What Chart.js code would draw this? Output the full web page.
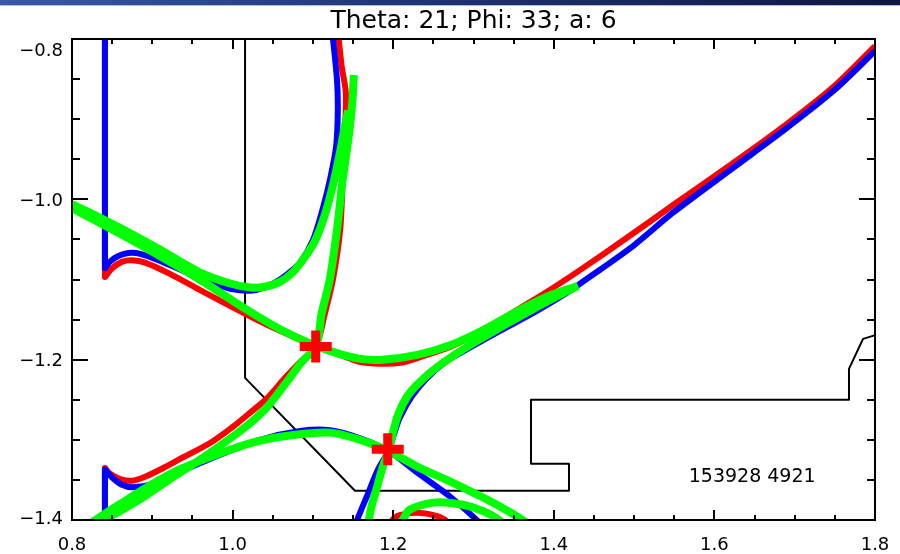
<!DOCTYPE html>
<html><head><meta charset="utf-8">
<script src="https://cdn.jsdelivr.net/npm/chart.js@4.4.1/dist/chart.umd.min.js"></script>
<style>
html,body{margin:0;padding:0;background:#fff;overflow:hidden}
#wrap{position:relative;width:900px;height:554px}
#bar{position:absolute;left:0;top:0;width:900px;height:5px;background:linear-gradient(to right,#3858a8,#203477 45%,#0e173f);border-bottom:1px solid #aebbe0}
canvas{position:absolute;left:0;top:0}
</style></head><body>
<div id="wrap"><canvas id="c" width="900" height="554"></canvas><div id="bar"></div></div>
<script>
// ---- text ----
const titleText = 'Theta: 21; Phi: 33; a: 6';
const annotationText = '153928 4921';
const annotationPos = [1.568, -1.352];

// ---- axes ----
const xRange = [0.8, 1.8];
const yRange = [-1.4, -0.8];
const xMajorTicks = [0.8, 1.0, 1.2, 1.4, 1.6, 1.8];
const xTickLabels = ['0.8', '1.0', '1.2', '1.4', '1.6', '1.8'];
const xMinorTicks = [0.85, 0.9, 0.95, 1.05, 1.1, 1.15, 1.25, 1.3, 1.35, 1.45, 1.5, 1.55, 1.65, 1.7, 1.75];
const yMajorTicks = [-1.4, -1.2, -1.0, -0.8];
const yTickLabels = ['\u22121.4', '\u22121.2', '\u22121.0', '\u22120.8'];
const yMinorTicks = [-1.35, -1.3, -1.25, -1.15, -1.1, -1.05, -0.95, -0.9, -0.85];

// ---- wall (black) ----
const wall = [[1.0155,-0.79],[1.0155,-1.2227],[1.1524,-1.3636],[1.4189,-1.3636],[1.4189,-1.3299],[1.3716,-1.3299],[1.3716,-1.2501],[1.7676,-1.2501],[1.7676,-1.2115],[1.7851,-1.1741],[1.81,-1.1666]];

// ---- red contours ----
const redVertTop = [[0.841,-0.79],[0.841,-1.097]];
const redUpperSep = [[0.841,-1.097],[0.850,-1.086],[0.862,-1.078],[0.875,-1.076],[0.891,-1.079],[0.922,-1.093],[0.959,-1.113],[1.018,-1.144],[1.059,-1.164],[1.104,-1.183],[1.134,-1.194],[1.159,-1.203],[1.184,-1.205],[1.208,-1.204],[1.230,-1.198],[1.271,-1.184],[1.312,-1.163],[1.354,-1.138],[1.395,-1.113],[1.433,-1.088],[1.491,-1.048],[1.553,-1.004],[1.623,-0.955],[1.685,-0.910],[1.748,-0.860],[1.800,-0.809]];
const redCrossSep = [[1.131,-0.79],[1.136,-0.835],[1.141,-0.867],[1.140,-0.913],[1.137,-0.976],[1.134,-1.038],[1.125,-1.100],[1.115,-1.142],[1.104,-1.183],[1.084,-1.203],[1.065,-1.223],[1.043,-1.248],[1.022,-1.266],[1.000,-1.284],[0.972,-1.304],[0.938,-1.322],[0.910,-1.337],[0.891,-1.346],[0.875,-1.351],[0.860,-1.349],[0.847,-1.342],[0.841,-1.335]];
const redVertBottom = [[0.841,-1.335],[0.841,-1.41]];
const redArc = [[1.196,-1.41],[1.198,-1.401],[1.208,-1.394],[1.231,-1.391],[1.254,-1.395],[1.267,-1.402],[1.270,-1.41]];

// ---- blue contours ----
const blueVertTop = [[0.841,-0.79],[0.841,-1.086]];
const blueUpper = [[0.841,-1.086],[0.847,-1.078],[0.857,-1.071],[0.870,-1.067],[0.885,-1.068],[0.910,-1.077],[0.947,-1.093],[0.978,-1.105],[0.999,-1.112],[1.022,-1.114],[1.040,-1.110],[1.059,-1.100],[1.071,-1.091],[1.084,-1.079],[1.100,-1.051],[1.113,-1.009],[1.122,-0.972],[1.129,-0.933],[1.131,-0.890],[1.130,-0.851],[1.124,-0.79]];
const blueVertBottom = [[0.841,-1.41],[0.841,-1.337]];
const blueLower = [[0.841,-1.337],[0.850,-1.347],[0.862,-1.356],[0.875,-1.359],[0.897,-1.356],[0.934,-1.340],[0.984,-1.319],[1.034,-1.300],[1.084,-1.289],[1.121,-1.288],[1.159,-1.298],[1.194,-1.314],[1.230,-1.341],[1.271,-1.371],[1.304,-1.400],[1.313,-1.41]];
const blueRising = [[1.152,-1.41],[1.155,-1.400],[1.167,-1.371],[1.181,-1.337],[1.194,-1.314],[1.200,-1.296],[1.208,-1.273],[1.223,-1.246],[1.242,-1.223],[1.265,-1.203],[1.292,-1.187],[1.333,-1.164],[1.374,-1.142],[1.411,-1.120],[1.433,-1.105],[1.499,-1.058],[1.548,-1.017],[1.623,-0.961],[1.685,-0.915],[1.748,-0.865],[1.800,-0.815]];

// ---- green contours ----
const greenBowl = [[0.800,-1.006],[0.835,-1.023],[0.872,-1.042],[0.910,-1.063],[0.959,-1.091],[0.997,-1.105],[1.022,-1.110],[1.040,-1.109],[1.059,-1.103],[1.075,-1.091],[1.090,-1.072],[1.103,-1.051],[1.115,-1.019],[1.125,-0.982],[1.133,-0.945],[1.139,-0.913],[1.144,-0.889]];
const greenUpperSep = [[0.800,-1.011],[0.860,-1.043],[0.910,-1.071],[0.959,-1.100],[1.018,-1.138],[1.059,-1.162],[1.104,-1.183],[1.134,-1.193],[1.159,-1.199],[1.187,-1.200],[1.230,-1.194],[1.271,-1.182],[1.312,-1.163],[1.354,-1.140],[1.395,-1.120],[1.430,-1.108]];
const greenCrossSep = [[1.151,-0.845],[1.149,-0.880],[1.144,-0.926],[1.137,-0.976],[1.130,-1.038],[1.121,-1.100],[1.111,-1.142],[1.104,-1.183],[1.086,-1.203],[1.065,-1.231],[1.043,-1.259],[1.022,-1.279],[1.000,-1.296],[0.959,-1.325],[0.922,-1.349],[0.885,-1.374],[0.854,-1.392],[0.832,-1.406]];
const greenLowerSep = [[0.820,-1.406],[0.860,-1.380],[0.897,-1.357],[0.934,-1.337],[0.984,-1.317],[1.034,-1.301],[1.084,-1.293],[1.121,-1.291],[1.159,-1.300],[1.194,-1.314],[1.233,-1.335],[1.271,-1.352],[1.312,-1.372],[1.345,-1.390],[1.367,-1.404]];
const greenRisingSep = [[1.169,-1.406],[1.172,-1.387],[1.179,-1.362],[1.186,-1.337],[1.194,-1.314],[1.199,-1.294],[1.206,-1.269],[1.218,-1.245],[1.233,-1.228],[1.255,-1.209],[1.292,-1.184],[1.333,-1.160],[1.374,-1.137],[1.408,-1.119],[1.430,-1.108]];
const greenArc = [[1.209,-1.41],[1.211,-1.402],[1.221,-1.387],[1.254,-1.378],[1.287,-1.381],[1.312,-1.389],[1.333,-1.401],[1.337,-1.41]];

// ---- X-points ----
const xPoints = [[1.1035,-1.1837],[1.1932,-1.3116]];

const pts = a => a.map(p => ({x: p[0], y: p[1]}));
function curve(data, color, width, order, tension, cap) {
  return {type: 'line', data: pts(data), borderColor: color, borderWidth: width, pointRadius: 0,
    tension: tension, order: order, clip: 0, fill: false, borderJoinStyle: 'round',
    borderCapStyle: cap || 'butt', parsing: false};
}
const RED = '#ff0000', BLUE = '#0000ff', GREEN = '#00ff00';
const datasets = [
  {type: 'scatter', data: pts(xPoints), pointStyle: 'cross', pointRadius: 16, pointHoverRadius: 16,
   borderColor: RED, borderWidth: 9, backgroundColor: RED, order: 0, clip: 0},
  curve(greenBowl, GREEN, 8, 1, 0.3),
  curve(greenUpperSep, GREEN, 8, 1, 0.3),
  curve(greenCrossSep, GREEN, 8, 1, 0.3),
  curve(greenLowerSep, GREEN, 8, 1, 0.3),
  curve(greenRisingSep, GREEN, 8, 1, 0.3),
  curve(greenArc, GREEN, 8, 1, 0.3),
  curve(blueVertTop, BLUE, 6, 2, 0, 'round'),
  curve(blueUpper, BLUE, 6, 2, 0.3),
  curve(blueVertBottom, BLUE, 6, 2, 0, 'round'),
  curve(blueLower, BLUE, 6, 2, 0.3),
  curve(blueRising, BLUE, 6, 2, 0.3),
  curve(redVertTop, RED, 6, 3, 0, 'round'),
  curve(redUpperSep, RED, 6, 3, 0.3),
  curve(redCrossSep, RED, 6, 3, 0.3),
  curve(redVertBottom, RED, 6, 3, 0, 'round'),
  curve(redArc, RED, 6, 3, 0.3),
  curve(wall, '#000000', 2, 4, 0)
];

const FONT = '"DejaVu Sans", "Liberation Sans", sans-serif';
const framePlugin = {
  id: 'frame',
  afterDatasetsDraw(chart) {
    const {ctx, chartArea: a, scales: {x, y}} = chart;
    ctx.save();
    ctx.strokeStyle = '#000';
    ctx.lineWidth = 2;
    ctx.beginPath();
    ctx.rect(a.left, a.top, a.right - a.left, a.bottom - a.top);
    ctx.stroke();
    ctx.beginPath();
    const xt = (v, len) => { const p = Math.round(x.getPixelForValue(v)); ctx.moveTo(p, a.bottom); ctx.lineTo(p, a.bottom - len); ctx.moveTo(p, a.top); ctx.lineTo(p, a.top + len); };
    const yt = (v, len) => { const p = Math.round(y.getPixelForValue(v)); ctx.moveTo(a.left, p); ctx.lineTo(a.left + len, p); ctx.moveTo(a.right, p); ctx.lineTo(a.right - len, p); };
    xMajorTicks.forEach(v => xt(v, 10));
    xMinorTicks.forEach(v => xt(v, 5));
    yMajorTicks.forEach(v => yt(v, 16));
    yMinorTicks.forEach(v => yt(v, 8));
    ctx.stroke();
    ctx.fillStyle = '#000';
    ctx.font = '18px ' + FONT;
    ctx.textBaseline = 'alphabetic';
    ctx.textAlign = 'center';
    xMajorTicks.forEach((v, i) => ctx.fillText(xTickLabels[i], x.getPixelForValue(v), a.bottom + 30));
    ctx.textAlign = 'right';
    yMajorTicks.forEach((v, i) => {
      let c = y.getPixelForValue(v);
      c = Math.min(Math.max(c, a.top + 10), a.bottom - 3);
      ctx.fillText(yTickLabels[i], a.left - 9, c + 6.5);
    });
    ctx.textAlign = 'left';
    ctx.font = '19px ' + FONT;
    ctx.fillText(annotationText, x.getPixelForValue(annotationPos[0]), y.getPixelForValue(annotationPos[1]));
    ctx.textAlign = 'center';
    ctx.font = '25px ' + FONT;
    ctx.fillText(titleText, (a.left + a.right) / 2, 28);
    ctx.restore();
  }
};

new Chart(document.getElementById('c'), {
  type: 'scatter',
  data: {datasets},
  options: {
    responsive: false, animation: false, devicePixelRatio: 1,
    layout: {padding: {left: 72, right: 25, top: 39, bottom: 34}},
    plugins: {legend: {display: false}, tooltip: {enabled: false}, title: {display: false}},
    events: [],
    scales: {
      x: {type: 'linear', display: false, min: xRange[0], max: xRange[1]},
      y: {type: 'linear', display: false, min: yRange[0], max: yRange[1]}
    }
  },
  plugins: [framePlugin]
});
</script>
</body></html>
